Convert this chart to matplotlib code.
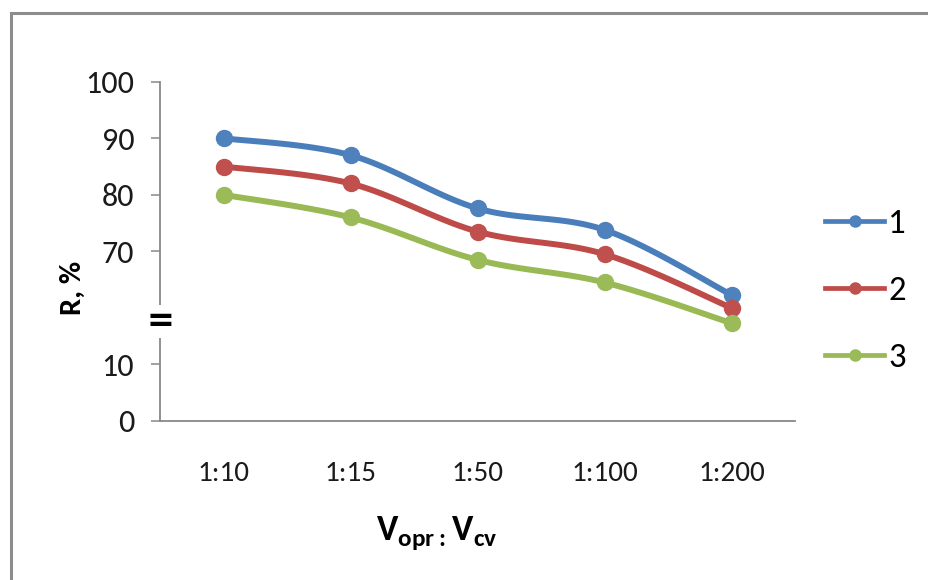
import numpy as np
import matplotlib
matplotlib.use("Agg")
import matplotlib.pyplot as plt
from matplotlib.patches import Rectangle

# ---- data ----
categories = ["1:10", "1:15", "1:50", "1:100", "1:200"]
series_names = ["1", "2", "3"]
series1 = [90, 87, 77.6, 73.8, 62.3]
series2 = [85, 82, 73.5, 69.5, 60.0]
series3 = [80, 76, 68.5, 64.5, 57.3]
ytick_labels = ["0", "10", "70", "80", "90", "100"]
ytick_values = [0, 10, 70, 80, 90, 100]

BREAK_OFFSET = 40  # broken y axis: values above the break are shifted down by 40


def to_axis(v):
    v = np.asarray(v, dtype=float)
    return np.where(v > 20, v - BREAK_OFFSET, v)


def smooth(xs, ys, n=30):
    # Excel-style smoothed line (Catmull-Rom Bezier) through the data points
    P = np.column_stack([xs, ys])
    P_ext = np.vstack([P[0], P, P[-1]])
    out = []
    for i in range(len(P) - 1):
        p0, p1, p2, p3 = P_ext[i], P_ext[i + 1], P_ext[i + 2], P_ext[i + 3]
        b1 = p1 + (p2 - p0) / 6.0
        b2 = p2 - (p3 - p1) / 6.0
        t = np.linspace(0, 1, n)[:, None]
        seg = ((1 - t) ** 3) * p1 + 3 * ((1 - t) ** 2) * t * b1 + 3 * (1 - t) * t ** 2 * b2 + t ** 3 * p2
        out.append(seg if i == 0 else seg[1:])
    out = np.vstack(out)
    return out[:, 0], out[:, 1]


FONT = "Carlito"
plt.rcParams["font.family"] = [FONT, "DejaVu Sans"]
plt.rcParams["mathtext.fontset"] = "custom"
plt.rcParams["mathtext.bf"] = FONT + ":bold"
plt.rcParams["mathtext.rm"] = FONT

W, H = 929, 580
fig = plt.figure(figsize=(W / 100, H / 100), dpi=100)
ax = fig.add_axes([160 / W, 1 - 421 / H, (795 - 160) / W, (421 - 81.7) / H])

line_colors = ["#4A7EBB", "#BE4B48", "#98B954"]
marker_colors = ["#4F81BD", "#C0504D", "#9BBB59"]
x = np.arange(len(categories))

handles = []
for vals, lc, mc, name in zip([series1, series2, series3], line_colors, marker_colors, series_names):
    yp = to_axis(vals)
    sx, sy = smooth(x, yp)
    ax.plot(sx, sy, color=lc, lw=4.3, solid_capstyle="round", zorder=3)
    ax.plot(x, yp, ls="none", marker="o", ms=11.5, mfc=mc, mec=mc, zorder=4)
    h, = ax.plot([], [], color=lc, lw=3.4, marker="o", ms=8, mfc=mc, mec=mc, label=name)
    handles.append(h)

ax.set_xlim(-0.5, len(categories) - 0.5)
ax.set_ylim(0, 60)
ax.set_xticks(x)
ax.set_xticklabels(categories, fontsize=21, color="#1a1a1a")
ax.set_yticks(to_axis(ytick_values))
ax.set_yticklabels(ytick_labels, fontsize=23, color="#1a1a1a")
ax.tick_params(axis="x", length=0, pad=29)
ax.tick_params(axis="y", length=6.5, width=1.1, color="#888888", pad=12)
for s in ["top", "right"]:
    ax.spines[s].set_visible(False)
for s in ["left", "bottom"]:
    ax.spines[s].set_color("#888888")
    ax.spines[s].set_linewidth(1.3)

# axis break marker
ax.text(0, 17.6, "=", transform=ax.get_yaxis_transform(), ha="center", va="center",
        fontsize=24, fontweight="bold", family="DejaVu Sans", color="black", zorder=5,
        bbox=dict(facecolor="white", edgecolor="none", pad=0.2))

fig.text(73 / W, 1 - 288 / H, "R, %", rotation=90, ha="center", va="center",
         fontsize=22, fontweight="bold", color="black")
fig.text(437 / W, 1 - 533 / H, r"$\mathbf{V}_{\mathbf{opr:}}\mathbf{V}_{\mathbf{cv}}$",
         ha="center", va="center", fontsize=26, color="black")

leg = fig.legend(handles=handles, loc="center left", bbox_to_anchor=(825 / W, 1 - 291 / H),
                 frameon=False, fontsize=25, handlelength=1.7, handletextpad=0.12,
                 labelspacing=1.05, borderpad=0, borderaxespad=0)

fig.patches.append(Rectangle((11 / W, -0.1), 1.2, (H - 13) / H + 0.1, transform=fig.transFigure,
                             fill=False, ec="#8C8C8C", lw=2.2, zorder=0))

fig.savefig("out.png", dpi=100)
